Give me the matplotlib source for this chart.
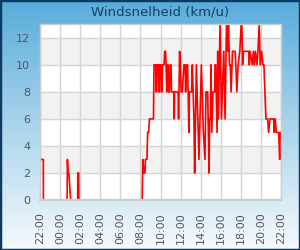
import numpy as np
import matplotlib
matplotlib.use('Agg')
import matplotlib.pyplot as plt
from matplotlib.colors import LinearSegmentedColormap
from matplotlib.patches import Rectangle

# hours since 22:00 (previous day) and wind speed in km/u
hours = [0.0, 0.33, 0.34,
         2.70, 2.73, 2.80, 2.88, 3.05,
         3.75, 3.77, 3.85, 3.87,
         10.18, 10.23, 10.35, 10.45, 10.50, 10.65, 10.72, 10.82, 10.90, 11.30,
         11.35, 11.52, 11.55, 11.62, 11.65, 11.80, 11.83, 11.88, 11.92, 12.05,
         12.08, 12.15, 12.20, 12.35, 12.42, 12.50, 12.55, 12.62, 12.68, 12.75,
         12.80, 12.90, 12.95, 13.05, 13.10, 13.32, 13.37, 13.40, 13.75, 13.80,
         13.90, 13.98, 14.05, 14.17, 14.33, 14.45, 14.50, 14.60, 14.70, 14.83,
         14.88, 15.10, 15.17, 15.33, 15.40, 15.57, 15.83, 16.07, 16.27, 16.43,
         16.53, 16.70, 16.83, 16.90, 16.97, 17.03, 17.10, 17.23, 17.40, 17.43,
         17.50, 17.63, 17.70, 17.77, 17.93, 18.07, 18.30, 18.43, 18.57, 18.70,
         18.77, 18.87, 18.95, 19.03, 19.17, 19.43, 19.50, 19.60, 19.73, 19.90,
         20.03, 20.10, 20.17, 20.27, 20.80, 20.85, 20.90, 21.15, 21.25, 21.35,
         21.45, 21.60, 21.70, 21.83, 21.93, 22.07, 22.20, 22.30, 22.50, 22.67,
         22.77, 22.90, 23.27, 23.33, 23.43, 23.53, 23.77, 23.87, 23.93, 24.0]
speed = [3, 3, 0,
         0, 3, 2, 2, 0,
         0, 2, 2, 0,
         0, 3, 2, 2, 3, 3, 5, 5, 6, 6,
         10, 10, 8, 8, 10, 10, 8, 8, 10, 10,
         8, 8, 10, 10, 11, 11, 10, 8, 10, 10,
         8, 8, 10, 10, 8, 8, 6, 8, 8, 6,
         11, 10, 8, 8, 10, 10, 8, 10, 10, 5,
         8, 8, 10, 6, 2, 10, 3, 10, 5, 3,
         8, 8, 2, 6, 6, 10, 5, 8, 8, 10,
         10, 5, 11, 6, 13, 6, 11, 6, 13, 11,
         13, 10, 10, 8, 11, 11, 10, 8, 10, 11,
         13, 13, 10, 11, 11, 10, 11, 10, 11, 10,
         11, 10, 11, 13, 10, 11, 10, 10, 6, 6,
         5, 6, 6, 5, 6, 5, 5, 3, 5, 5]

tick_hours = [0, 2, 4, 6, 8, 10, 12, 14, 16, 18, 20, 22, 24]
tick_labels = ['22:00', '00:00', '02:00', '04:00', '06:00', '08:00', '10:00',
               '12:00', '14:00', '16:00', '18:00', '20:00', '22:00']
y_ticks = [0, 2, 4, 6, 8, 10, 12]

fig = plt.figure(figsize=(3, 2.5), dpi=100)

# gradient background
bg = fig.add_axes([0, 0, 1, 1], zorder=-10)
cmap = LinearSegmentedColormap.from_list('bg', ['#58acdb', '#a9d4ec', '#f6fafd'])
bg.imshow(np.linspace(0, 1, 256).reshape(-1, 1), aspect='auto', cmap=cmap,
          extent=[0, 1, 0, 1])
bg.add_patch(Rectangle((0, 0), 1, 1, transform=bg.transAxes, fill=False,
                       edgecolor='#0d3b63', lw=2.5))
bg.set_axis_off()

ax = fig.add_axes([40 / 300, 50 / 250, 241 / 300, 175.7 / 250])
ax.set_facecolor('white')
for lo in [2, 6, 10]:
    ax.axhspan(lo, lo + 2, color='#f2f2f2', zorder=0)
ax.set_xlim(0, 24)
ax.set_ylim(0, 13)
ax.set_xticks(tick_hours)
ax.set_xticklabels(tick_labels, rotation=90)
ax.set_yticks(y_ticks)
ax.grid(True, color='#d4d4d4', lw=1, zorder=1)
ax.set_axisbelow(True)
ax.tick_params(length=0, labelsize=8, colors='#555555')
ax.tick_params(axis='x', pad=9)
ax.tick_params(axis='y', pad=7)
for s in ax.spines.values():
    s.set_color('#cccccc')
    s.set_linewidth(1)
    s.set_zorder(5)
ax.spines['bottom'].set_linewidth(1.6)

ax.plot(hours, speed, color='#ff0000', lw=1.2, zorder=3)

fig.text(160.5 / 300, 1 - 12 / 250, 'Windsnelheid (km/u)', ha='center',
         va='center', fontsize=9.5, color='#173f66')

plt.savefig('out.png', dpi=100)
